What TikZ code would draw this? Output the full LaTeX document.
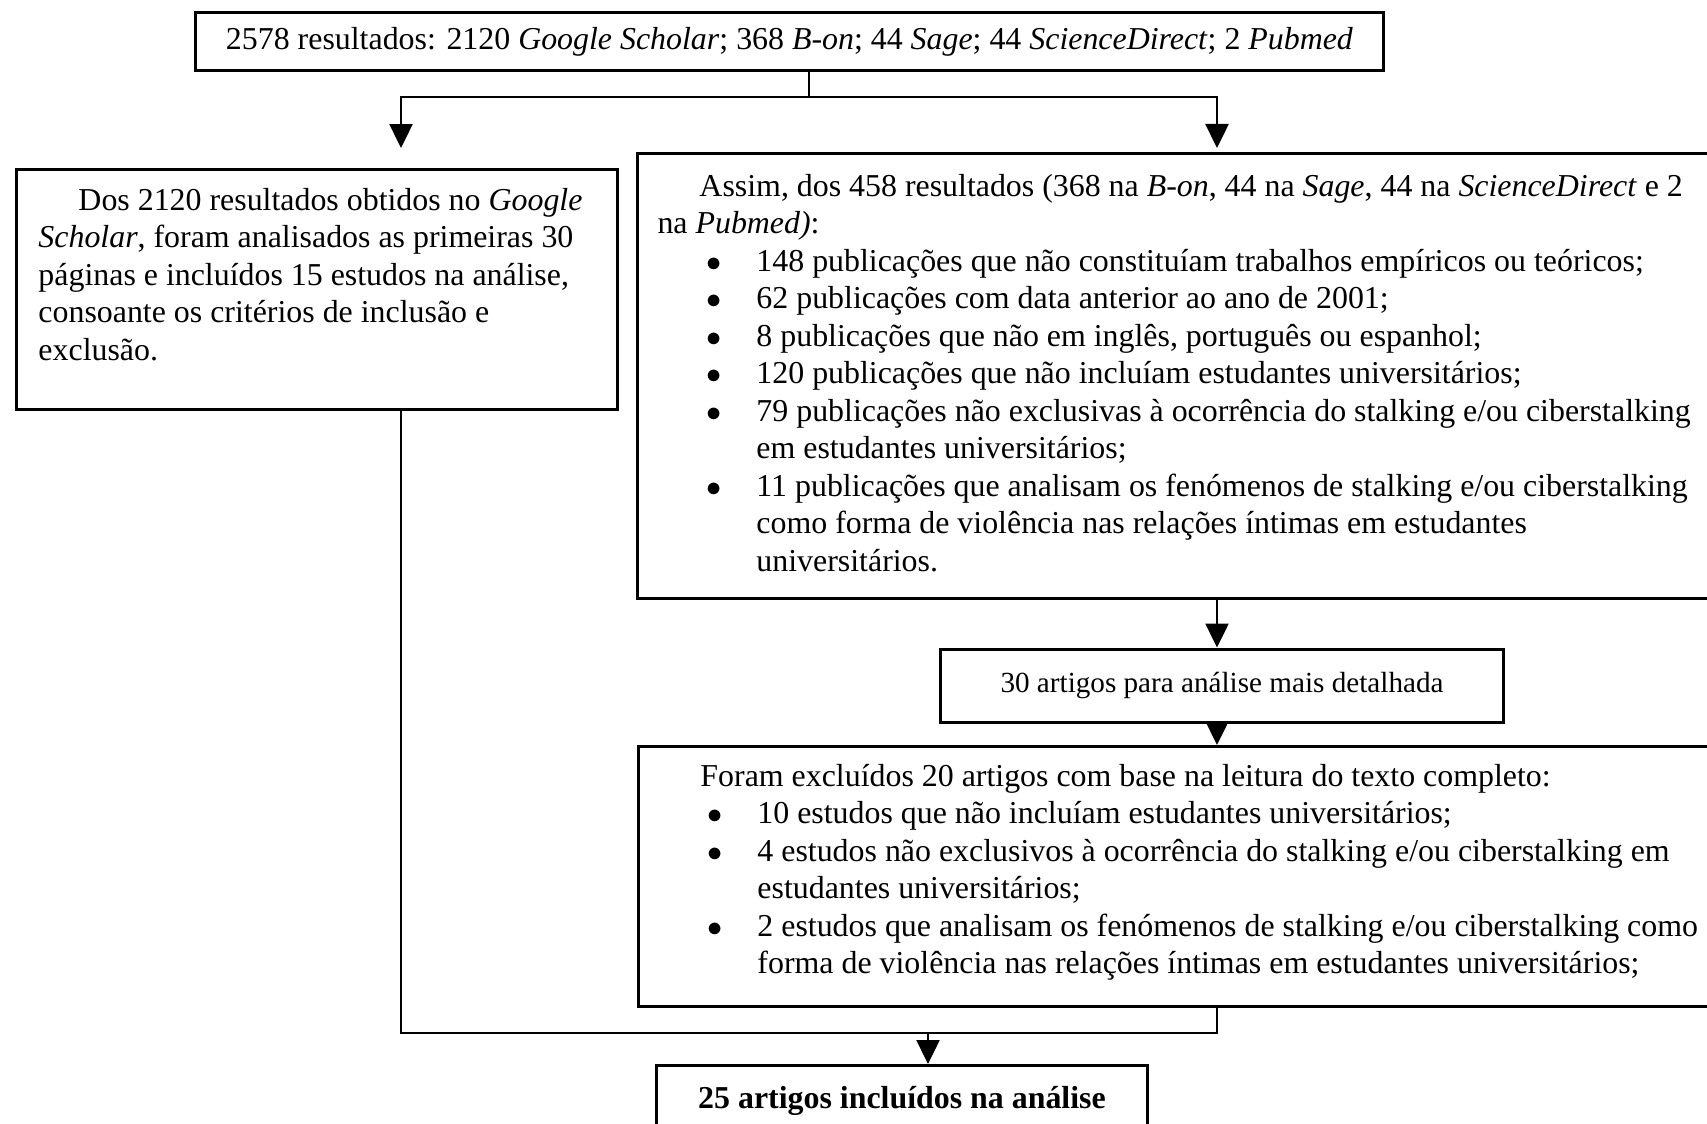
\documentclass[tikz,border=0pt]{standalone}
\usepackage{fontspec}
\setmainfont{Liberation Serif}
\usetikzlibrary{arrows.meta}

\newcommand{\bodyfont}{\fontsize{18.15pt}{21.34pt}\selectfont}
\newcommand{\smallbody}{\fontsize{16.6pt}{19.5pt}\selectfont}
\newcommand{\bitem}[1]{\hspace*{0.98cm}\makebox[1cm][l]{$\bullet$}\mbox{#1}}
\newcommand{\bcont}[1]{\hspace*{1.98cm}\mbox{#1}}

\begin{document}
\begin{tikzpicture}[x=0.02cm, y=-0.02cm,
    box/.style={draw=black, line width=0.06cm, rectangle, inner sep=0pt, font=\bodyfont},
    textbox/.style={box, anchor=north west, inner xsep=0.4cm},
    link/.style={line width=0.05cm},
    arr/.style={link, -{Triangle[length=0.48cm, width=0.46cm]}}
  ]
  \path[use as bounding box, fill=white] (0,0) rectangle (1707,1124);

  \node[box, minimum width=23.78cm, minimum height=1.16cm] (search) at (789.5,41.7)
    {2578 resultados: 2120 \textit{Google Scholar}; 368 \textit{B-on}; 44 \textit{Sage}; 44 \textit{ScienceDirect}; 2 \textit{Pubmed}};

  \node[textbox, inner xsep=0.44cm, inner ysep=0.295cm] (scholar) at (15,168)
    {\parbox[t][4.21cm][t]{11.14cm}{\strut\hspace*{0.8cm}\mbox{Dos 2120 resultados obtidos no \textit{Google}}\\
      \mbox{\textit{Scholar}, foram analisados as primeiras 30}\\
      \mbox{páginas e incluídos 15 estudos na análise,}\\
      \mbox{consoante os critérios de inclusão e}\\
      \mbox{exclusão.}}};

  \node[textbox, inner ysep=0.33cm] (results) at (636,152)
    {\parbox[t][8.25cm][t]{21.7cm}{\strut\hspace*{0.84cm}\mbox{Assim, dos 458 resultados (368 na \textit{B-on}, 44 na \textit{Sage}, 44 na \textit{ScienceDirect} e 2}\\
      \mbox{na \textit{Pubmed)}:}\\
      \bitem{148 publicações que não constituíam trabalhos empíricos ou teóricos;}\\
      \bitem{62 publicações com data anterior ao ano de 2001;}\\
      \bitem{8 publicações que não em inglês, português ou espanhol;}\\
      \bitem{120 publicações que não incluíam estudantes universitários;}\\
      \bitem{79 publicações não exclusivas à ocorrência do stalking e/ou ciberstalking}\\
      \bcont{em estudantes universitários;}\\
      \bitem{11 publicações que analisam os fenómenos de stalking e/ou ciberstalking}\\
      \bcont{como forma de violência nas relações íntimas em estudantes}\\
      \bcont{universitários.}}};

  \node[box, font=\smallbody, minimum width=11.28cm, minimum height=1.48cm] (detail) at (1222,686)
    {30 artigos para análise mais detalhada};

  \node[textbox, inner ysep=0.275cm] (excluded) at (637,745)
    {\parbox[t][4.65cm][t]{21.7cm}{\strut\hspace*{0.84cm}\mbox{Foram excluídos 20 artigos com base na leitura do texto completo:}\\
      \bitem{10 estudos que não incluíam estudantes universitários;}\\
      \bitem{4 estudos não exclusivos à ocorrência do stalking e/ou ciberstalking em}\\
      \bcont{estudantes universitários;}\\
      \bitem{2 estudos que analisam os fenómenos de stalking e/ou ciberstalking como}\\
      \bcont{forma de violência nas relações íntimas em estudantes universitários;}}};

  \node[box, anchor=north, minimum width=9.84cm, minimum height=1.4cm, font=\bodyfont\bfseries] (final) at (902,1064)
    {25 artigos incluídos na análise};

  % connectors
  \coordinate (fork) at (809,97);
  \coordinate (lcol) at (401,0);
  \coordinate (rcol) at (1217,0);
  \coordinate (merge) at (928,1033);
  \draw[link] (search.south -| fork) -- (fork);
  \draw[arr, shorten >=0.4cm] (fork) -| (lcol |- scholar.north);
  \draw[arr, shorten >=0.08cm] (fork) -| (rcol |- results.north);
  \draw[arr] (rcol |- results.south) -- (rcol |- detail.north);
  \draw[arr] (rcol |- detail.south) -- (rcol |- excluded.north);
  \draw[link] (lcol |- scholar.south) |- (merge -| rcol) -- (rcol |- excluded.south);
  \draw[arr] (merge) -- (merge |- final.north);
\end{tikzpicture}
\end{document}
